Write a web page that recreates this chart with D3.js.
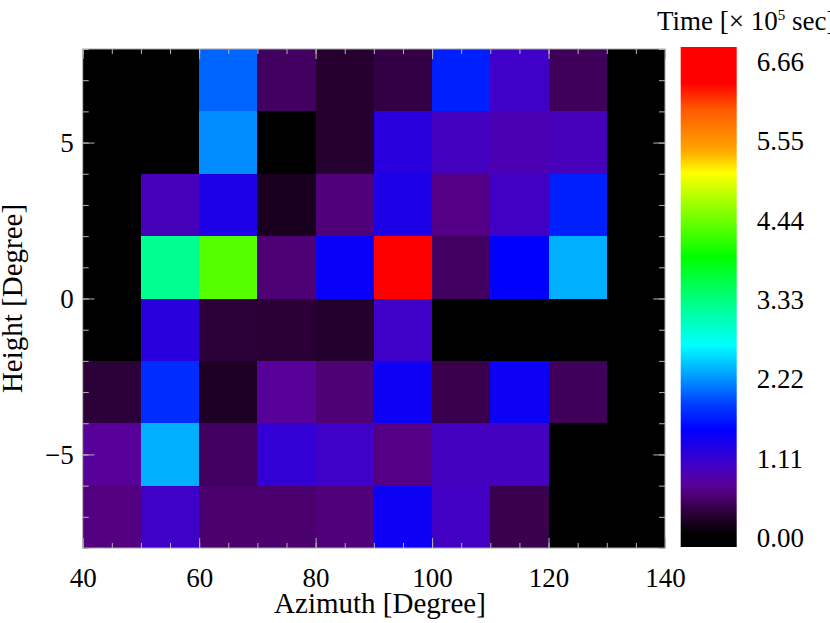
<!DOCTYPE html>
<html lang="en">
<head>
  <meta charset="UTF-8" />
  <title>Time map</title>
  <script src="https://d3js.org/d3.v7.min.js"></script>
  <style>
    html, body { margin: 0; background: #fff; }
    svg { display: block; }
    svg text { font-family: "Liberation Serif", "DejaVu Serif", serif; }
    .tick line { stroke: #b4b4b4; }
    .tick text { font-size: 27px; fill: #000; }
    .frame { fill: none; stroke: #a8a8a8; stroke-width: 1; }
    .label { font-size: 29px; fill: #000; }
  </style>
</head>
<body>
  <svg id="chart" width="830" height="623"></svg>
  <script>
    // lower edges of the bins
    const azimuthBins = [40, 50, 60, 70, 80, 90, 100, 110, 120, 130];
    const heightBins = [6, 4, 2, 0, -2, -4, -6, -8];
    const binWidth = 10, binHeight = 2;

    // time per bin [x 10^5 sec], one row per height bin (top to bottom)
    const row6 = [0, 0, 2.05, 0.60, 0.41, 0.50, 1.73, 1.10, 0.58, 0];
    const row4 = [0, 0, 2.21, 0, 0.41, 1.27, 1.05, 0.97, 1.02, 0];
    const row2 = [0, 1.02, 1.35, 0.33, 0.70, 1.35, 0.75, 1.08, 1.73, 0];
    const row0 = [0, 3.21, 4.24, 0.68, 1.50, 6.66, 0.60, 1.56, 2.36, 0];
    const rowM2 = [0, 1.27, 0.45, 0.44, 0.40, 1.10, 0, 0, 0, 0];
    const rowM4 = [0.45, 1.80, 0.35, 0.83, 0.68, 1.47, 0.53, 1.47, 0.58, 0];
    const rowM6 = [0.83, 2.36, 0.60, 1.20, 1.10, 0.75, 1.05, 1.05, 0, 0];
    const rowM8 = [0.72, 1.10, 0.65, 0.65, 0.71, 1.47, 1.08, 0.53, 0, 0];
    const timeRows = [row6, row4, row2, row0, rowM2, rowM4, rowM6, rowM8];

    const xMajorTicks = [40, 60, 80, 100, 120, 140];
    const yMajorTicks = [-5, 0, 5];
    const barTicks = [0.00, 1.11, 2.22, 3.33, 4.44, 5.55, 6.66];
    const maxTime = 6.66;

    // rainbow colour table (fraction of the range -> colour)
    const ctPos = [0, 0.024, 0.064, 0.104, 0.125, 0.17, 0.234, 0.284, 0.338, 0.404,
                   0.494, 0.58, 0.68, 0.748, 0.794, 0.874, 0.928, 1];
    const ctColors = ['#000000', '#000000', '#280032', '#500078', '#58009b', '#3c00cd',
                      '#0000ff', '#003cff', '#0096ff', '#00ffff', '#00ff80', '#00ff00',
                      '#96ff00', '#ffff00', '#ffa500', '#ff5a00', '#ff0000', '#ff0000'];

    const plot = { left: 82.7, right: 665, top: 49, bottom: 548 };
    const bar = { left: 680.7, right: 736.7, top: 47, bottom: 547 };

    const svg = d3.select('#chart');

    const x = d3.scaleLinear().domain([40, 140]).range([plot.left, plot.right]);
    const y = d3.scaleLinear().domain([-8, 8]).range([plot.bottom, plot.top]);
    const color = d3.scaleLinear()
      .domain(ctPos.map(p => p * maxTime))
      .range(ctColors)
      .clamp(true);

    const cells = [];
    heightBins.forEach((h, i) => {
      azimuthBins.forEach((a, j) => cells.push({ a, h, v: timeRows[i][j] }));
    });

    svg.append('g')
      .selectAll('rect')
      .data(cells)
      .enter().append('rect')
      .attr('x', d => x(d.a))
      .attr('y', d => y(d.h + binHeight))
      .attr('width', d => x(d.a + binWidth) - x(d.a))
      .attr('height', d => y(d.h) - y(d.h + binHeight))
      .attr('fill', d => color(d.v))
      .attr('shape-rendering', 'crispEdges');

    // axes: inward ticks on all four sides
    const xMinor = d3.range(40, 141, 5);
    const yMinor = d3.range(-8, 9, 1);

    function addAxis(axis, tx, ty, labels) {
      const g = svg.append('g').attr('transform', `translate(${tx},${ty})`).call(axis);
      g.attr('font-family', null).attr('font-size', null);
      g.select('.domain').remove();
      if (!labels) g.selectAll('text').remove();
      return g;
    }

    addAxis(d3.axisBottom(x).tickValues(xMinor).tickSize(-5).tickFormat(''), 0, plot.bottom);
    addAxis(d3.axisBottom(x).tickValues(xMajorTicks).tickSize(-10).tickPadding(20)
      .tickFormat(d3.format('d')), 0, plot.bottom, true);
    addAxis(d3.axisTop(x).tickValues(xMinor).tickSize(-5), 0, plot.top);
    addAxis(d3.axisTop(x).tickValues(xMajorTicks).tickSize(-10), 0, plot.top);

    addAxis(d3.axisLeft(y).tickValues(yMinor).tickSize(-6).tickFormat(''), plot.left, 0);
    addAxis(d3.axisLeft(y).tickValues(yMajorTicks).tickSize(-11.7).tickPadding(9)
      .tickFormat(d3.format('d')), plot.left, 0, true);
    addAxis(d3.axisRight(y).tickValues(yMinor).tickSize(-6), plot.right, 0);
    addAxis(d3.axisRight(y).tickValues(yMajorTicks).tickSize(-11.7), plot.right, 0);

    svg.append('rect')
      .attr('class', 'frame')
      .attr('x', plot.left).attr('y', plot.top)
      .attr('width', plot.right - plot.left)
      .attr('height', plot.bottom - plot.top);

    svg.append('text')
      .attr('class', 'label')
      .attr('x', 380).attr('y', 613)
      .attr('text-anchor', 'middle')
      .text('Azimuth [Degree]');

    svg.append('text')
      .attr('class', 'label')
      .attr('transform', `translate(22,${(plot.top + plot.bottom) / 2}) rotate(-90)`)
      .attr('text-anchor', 'middle')
      .text('Height [Degree]');

    // colour bar
    const grad = svg.append('defs').append('linearGradient')
      .attr('id', 'ct')
      .attr('x1', 0).attr('y1', 1).attr('x2', 0).attr('y2', 0);
    grad.selectAll('stop')
      .data(ctPos)
      .enter().append('stop')
      .attr('offset', d => d)
      .attr('stop-color', (d, i) => ctColors[i]);

    svg.append('rect')
      .attr('x', bar.left).attr('y', bar.top)
      .attr('width', bar.right - bar.left)
      .attr('height', bar.bottom - bar.top)
      .attr('fill', 'url(#ct)');

    const barScale = d3.scaleLinear().domain([0, maxTime]).range([bar.bottom - 9, bar.top + 15]);
    const barAxis = svg.append('g')
      .attr('transform', `translate(${bar.right},0)`)
      .call(d3.axisRight(barScale).tickValues(barTicks).tickSize(0).tickPadding(20)
        .tickFormat(d3.format('.2f')));
    barAxis.attr('font-family', null).attr('font-size', null);
    barAxis.select('.domain').remove();

    const title = svg.append('text')
      .attr('x', 657).attr('y', 30)
      .style('font-size', '27px');
    title.append('tspan').text('Time [× 10');
    title.append('tspan').attr('dy', -10).style('font-size', '15px').text('5');
    title.append('tspan').attr('dy', 10).text(' sec]');
  </script>
</body>
</html>
